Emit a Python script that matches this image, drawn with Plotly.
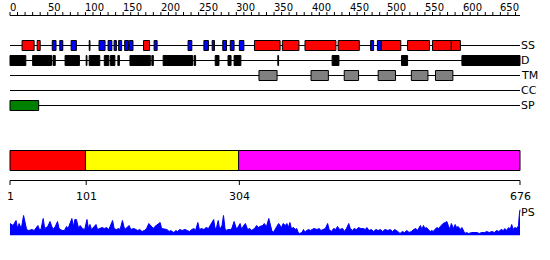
import plotly.graph_objects as go

# ---------------- data ----------------
seq_len = 676
track_names = ["SS", "D", "TM", "CC", "SP"]

ss_helix = [(16, 32), (36, 40), (177, 185), (324, 358), (361, 383), (391, 432),
            (435, 463), (492, 518), (527, 556), (560, 585), (585, 597)]
ss_strand = [(56, 61), (66, 70), (81, 88), (105, 106), (118, 126), (130, 135),
             (138, 141), (144, 148), (152, 157), (158, 163), (191, 195), (236, 241),
             (257, 263), (268, 271), (282, 287), (292, 297), (304, 310), (478, 482),
             (487, 492)]
disorder = [(0, 21), (30, 55), (57, 60), (73, 92), (101, 102), (105, 119), (125, 131),
            (133, 139), (143, 145), (159, 186), (188, 190), (203, 242), (244, 246),
            (272, 277), (289, 293), (297, 306), (355, 356), (427, 436), (519, 527),
            (599, 676)]
tm_segments = [(330, 354), (399, 422), (443, 462), (488, 511), (532, 554), (564, 587)]
cc_segments = []
sp_segments = [(0, 38)]

domain_bounds = [1, 101, 304, 676]
domain_colors = ["#FF0000", "#FFFF00", "#FF00FF"]

ruler_ticks = list(range(0, 677, 10))
ruler_labels = list(range(0, 677, 50))

ps_pos = [0, 4, 8, 10, 12, 15, 18, 20, 22, 25, 29, 32, 37, 39, 41, 44, 46, 50, 53, 55, 57, 60, 63, 65,
          69, 72, 75, 77, 82, 84, 86, 88, 91, 93, 96, 99, 102, 104, 106, 108, 111, 114, 116, 119,
          122, 125, 128, 131, 136, 138, 141, 144, 146, 149, 152, 155, 158, 160, 164, 167, 169, 172,
          175, 178, 181, 184, 187, 190, 192, 196, 199, 201, 205, 208, 211, 213, 217, 220, 222, 225,
          228, 232, 235, 238, 241, 244, 246, 249, 251, 254, 257, 260, 263, 265, 267, 270, 272, 274,
          276, 278, 281, 283, 285, 287, 289, 292, 294, 297, 300, 302, 305, 307, 309, 312, 315, 318,
          320, 324, 327, 329, 331, 335, 337, 340, 343,
          345, 347, 349, 351, 354, 356, 358, 360, 362, 365, 367, 369, 371, 373, 376, 378, 380, 382,
          384, 387, 389, 391, 393, 396, 398, 400, 403, 407, 410, 412, 415, 418, 421, 423, 426, 429,
          432, 434, 437, 441, 443, 446, 449, 451, 454, 456, 459, 462, 465, 468, 471, 473, 476, 479,
          482, 485, 488, 491, 494, 497, 501, 504, 507, 510, 514, 517, 520, 523, 526, 529, 532, 535,
          538, 540, 544, 546, 548, 550, 552, 555, 557, 559, 561, 563, 566, 568, 570, 572, 574, 577,
          579, 581, 583, 585, 588, 590, 592, 594, 597, 599, 601, 603, 605, 608, 612, 616, 619, 622,
          625, 629, 632, 635, 639, 642, 645, 648, 651, 654, 656, 658, 661, 663, 665, 667, 669, 672,
          674, 675, 676]
ps_val = [12, 10, 15, 7, 12, 7, 20, 11, 6, 5, 6, 5, 10, 6, 6, 17, 7, 9, 14, 10, 6, 9, 14, 7,
          5, 5, 9, 7, 17, 9, 16, 16, 7, 10, 7, 6, 16, 7, 11, 6, 9, 11, 6, 7,
          8, 7, 8, 6, 15, 7, 6, 7, 6, 15, 6, 8, 10, 6, 7, 6, 5, 6,
          4, 5, 7, 12, 10, 7, 9, 11, 13, 7, 6, 6, 4, 5, 3, 5, 4, 6,
          5, 6, 5, 4, 6, 7, 5, 13, 6, 7, 6, 8, 7, 10, 12, 16, 6, 9,
          15, 6, 10, 20, 7, 5, 6, 6, 7, 14, 7, 8, 12, 6, 9, 12, 6, 7,
          5, 7, 10, 8, 9, 10, 12, 9, 17,
          10, 5, 3, 6, 9, 12, 10, 8, 12, 10, 12, 8, 13, 7, 8, 6, 7, 3,
          2, 3, 6, 3, 5, 6, 5, 6, 7, 6, 7, 5, 6, 7, 12, 6, 4, 7,
          6, 9, 6, 7, 4, 7, 12, 7, 5, 7, 6, 8, 7, 7, 6, 8, 5, 6,
          4, 6, 5, 6, 4, 6, 5, 6, 4, 6, 4, 2, 4, 3, 5, 3, 4, 6,
          7, 5, 10, 6, 10, 7, 8, 6, 4, 5, 4, 6, 8, 7, 9, 11, 12, 13,
          14, 10, 6, 12, 7, 11, 8, 9, 6, 8, 4, 2, 3, 2, 3, 3, 3, 2,
          3, 3, 4, 3, 4, 3, 5, 4, 6, 5, 7, 5, 8, 6, 11, 6, 8, 7,
          10, 20, 26]

# ---------------- layout helpers ----------------
W, H = 550, 260
X0, X1 = 10, 520                 # pixel span of residues 0..seq_len
k = (X1 - X0) / seq_len
x_range = [-X0 / k, (W - X0) / k]


def P(py):
    return 1 - py / H


FONT = "DejaVu Sans"
shapes = []
annotations = []


def hline(x0, x1, py, width=1, color="black"):
    shapes.append(dict(type="line", xref="x", yref="paper", x0=x0, x1=x1,
                       y0=P(py), y1=P(py), line=dict(color=color, width=width)))


def vline(x, py0, py1, width=1, color="black"):
    shapes.append(dict(type="line", xref="x", yref="paper", x0=x, x1=x,
                       y0=P(py0), y1=P(py1), line=dict(color=color, width=width)))


def box(x0, x1, py0, py1, fill):
    shapes.append(dict(type="rect", xref="x", yref="paper", x0=x0, x1=x1,
                       y0=P(py1), y1=P(py0), fillcolor=fill,
                       line=dict(color="black", width=1)))


# top ruler
ruler_y = 15.5
hline(0, seq_len, ruler_y)
for t in ruler_ticks:
    vline(t, ruler_y, ruler_y - 3.5)
for t in ruler_labels:
    annotations.append(dict(x=t, y=P(7), xref="x", yref="paper", text=str(t),
                            showarrow=False, xanchor="left", yanchor="middle",
                            xshift=-2, font=dict(family=FONT, size=10, color="black")))

# feature tracks
track_y = {"SS": 45.5, "D": 60.5, "TM": 75.5, "CC": 90.5, "SP": 105.5}
half = 5
for name in track_names:
    hline(0, seq_len, track_y[name])
    annotations.append(dict(x=seq_len, y=P(track_y[name]), xref="x", yref="paper",
                            text=name, showarrow=False, xanchor="left", yanchor="middle",
                            xshift=-1, font=dict(family=FONT, size=11, color="black")))

track_sets = [("SS", ss_helix, "#FF0000"), ("SS", ss_strand, "#0000FF"),
              ("D", disorder, "#000000"), ("TM", tm_segments, "#808080"),
              ("CC", cc_segments, "#808080"), ("SP", sp_segments, "#008000")]
for name, segs, col in track_sets:
    yc = track_y[name]
    for a, b in segs:
        box(a, b, yc - half, yc + half, col)

# domain bar
for i, col in enumerate(domain_colors):
    box(domain_bounds[i] - 1, domain_bounds[i + 1], 150.5, 170.5, col)

# bottom ruler
by = 180.5
hline(0, seq_len, by)
for t in domain_bounds:
    vline(t - 1 if t == 1 else t, by, by + 4.5)
    annotations.append(dict(x=t - 1 if t == 1 else t, y=P(196), xref="x", yref="paper",
                            text=str(t), showarrow=False, xanchor="center", yanchor="middle",
                            font=dict(family=FONT, size=11, color="black")))

annotations.append(dict(x=seq_len, y=P(212), xref="x", yref="paper", text="PS",
                        showarrow=False, xanchor="left", yanchor="middle", xshift=-1,
                        font=dict(family=FONT, size=11, color="black")))

fig = go.Figure()
fig.add_trace(go.Scatter(x=ps_pos, y=ps_val, mode="lines", fill="tozeroy",
                         line=dict(color="#0000FF", width=1), fillcolor="#0000FF",
                         yaxis="y2", hoverinfo="skip", showlegend=False))

fig.update_layout(
    width=W, height=H, margin=dict(l=0, r=0, t=0, b=0),
    paper_bgcolor="white", plot_bgcolor="white",
    showlegend=False,
    xaxis=dict(range=x_range, visible=False, showgrid=False, zeroline=False, fixedrange=True),
    yaxis=dict(range=[0, 1], visible=False, domain=[0, 1]),
    yaxis2=dict(range=[0, 26], visible=False, domain=[P(235.5), P(209.5)],
                anchor="x", showgrid=False, zeroline=False),
    shapes=shapes, annotations=annotations,
)

fig.write_html("out.html")
